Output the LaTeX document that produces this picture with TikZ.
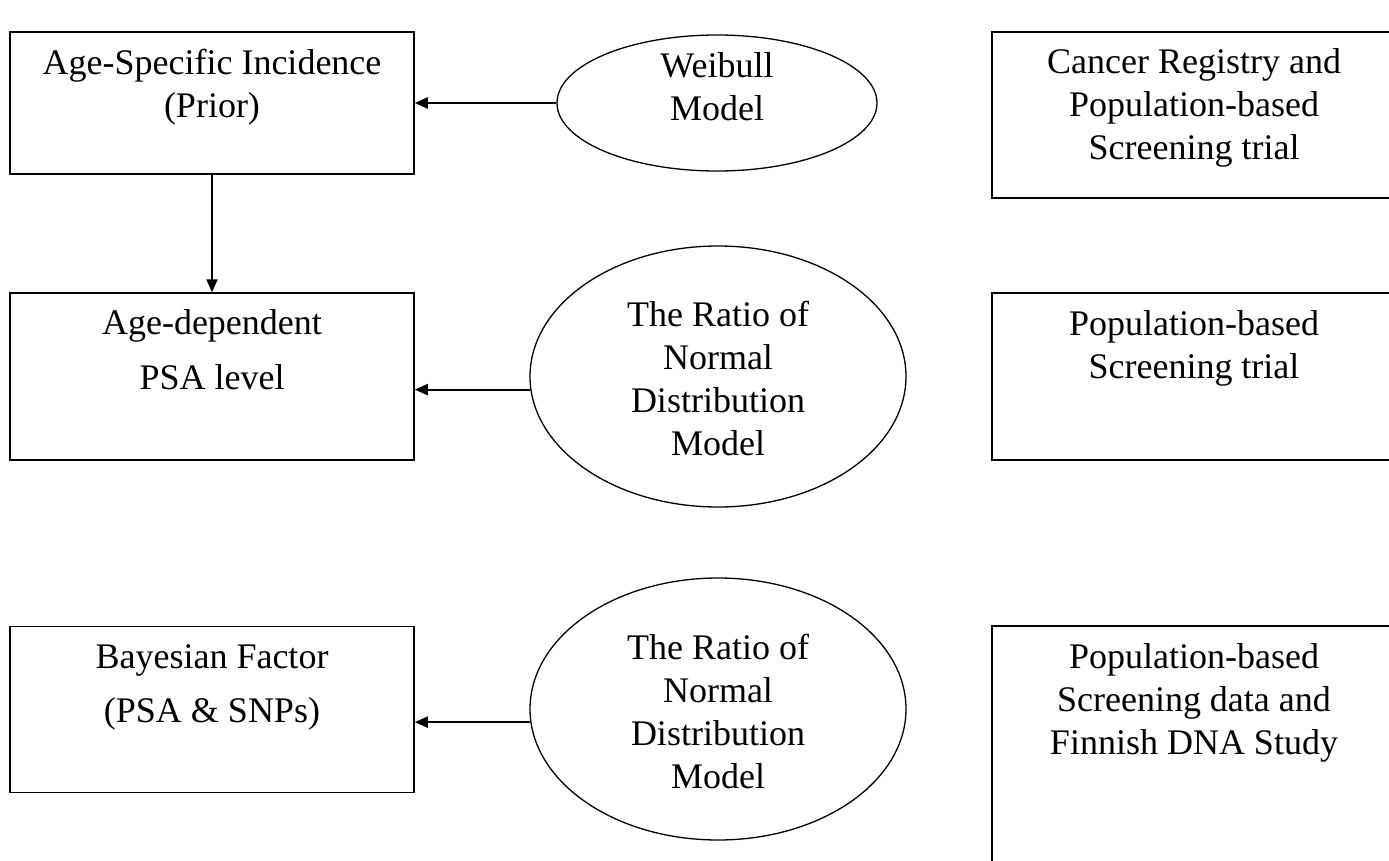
\documentclass[tikz,border=0pt]{standalone}
\usepackage{fontspec}
\setmainfont{Liberation Serif}
\usepackage{tikz}
\usetikzlibrary{arrows.meta}
\usetikzlibrary{shapes.geometric}

\begin{document}
\begin{tikzpicture}[x=1pt,y=-1pt,
  box/.style={draw,line width=1.5pt,minimum width=404pt,inner sep=0pt},
  oval/.style={draw,ellipse,line width=1.3pt,inner sep=0pt},
  txt/.style={align=center,anchor=base,inner sep=0pt,font=\fontsize{36}{43}\selectfont}]
  \useasboundingbox (0,0) rectangle (1389,861);
  \clip (0,0) rectangle (1389,861);
  % left column
  \node[box,minimum height=142pt] (incid) at (212,103) {};
  \node[box,minimum height=167pt] (psa) at (212,376.5) {};
  \node[box,minimum height=166pt] (bayes) at (212,709.5) {};
  % models
  \node[oval,minimum width=320pt,minimum height=136pt] (weib) at (717,103) {};
  \node[oval,minimum width=376pt,minimum height=261pt] (ratioa) at (718,376.5) {};
  \node[oval,minimum width=376pt,minimum height=262pt] (ratiob) at (718,709) {};
  % data sources
  \node[box,minimum height=166pt] (regis) at (1194,115) {};
  \node[box,minimum height=167pt] (screen) at (1194,376.5) {};
  \node[box,minimum height=300pt] (finn) at (1194,776) {};
  % texts (base = last line)
  \node[txt] (incidtxt) at ([yshift=-86pt]incid.north) {Age-Specific Incidence\\(Prior)};
  \node[txt] (psatxt) at ([yshift=-97pt]psa.north) {Age-dependent\\[12pt]PSA level};
  \node[txt] (bayestxt) at ([yshift=-97pt]bayes.north) {Bayesian Factor\\[11pt](PSA \& SNPs)};
  \node[txt] (weibtxt) at ([yshift=-18pt]weib.center) {Weibull\\Model};
  \node[txt] (ratioatxt) at ([yshift=-78.5pt]ratioa.center) {The Ratio of\\Normal\\Distribution\\Model};
  \node[txt] (ratiobtxt) at ([yshift=-79pt]ratiob.center) {The Ratio of\\Normal\\Distribution\\Model};
  \node[txt] (registxt) at ([yshift=-128pt]regis.north) {Cancer Registry and\\Population-based\\Screening trial};
  \node[txt] (screentxt) at ([yshift=-86pt]screen.north) {Population-based\\Screening trial};
  \node[txt] (finntxt) at ([yshift=-129pt]finn.north) {Population-based\\Screening data and\\Finnish DNA Study};
  % arrows
  \path[-{Triangle[length=13pt,width=11pt]},line width=2pt]
    (weib) edge (incid)
    (incid) edge (psa)
    (ratioa.184) edge (ratioa.184 -| psa.east)
    (ratiob.184) edge (ratiob.184 -| bayes.east);
\end{tikzpicture}
\end{document}
